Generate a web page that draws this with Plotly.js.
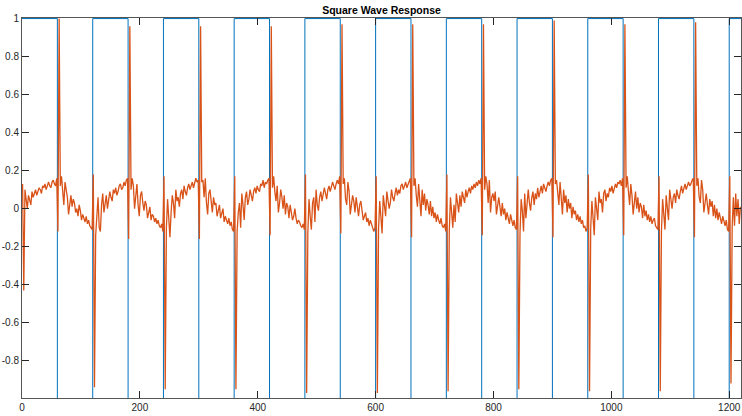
<!DOCTYPE html>
<html>
<head>
<meta charset="utf-8">
<script src="https://cdn.plot.ly/plotly-3.0.1.min.js"></script>
<style>
  html, body { margin: 0; padding: 0; background: #ffffff; }
  #chart { width: 742px; height: 416px; }
</style>
</head>
<body>
<div id="chart"></div>
<script>
// Square wave input: level changes at each edge time (held until the next one)
const squareTimes  = [0, 60, 120, 180, 240, 300, 360, 420, 480, 540, 600, 660, 720, 780, 840, 900, 960, 1020, 1080, 1140, 1200, 1220];
const squareLevels = [1, -1, 1, -1, 1, -1, 1, -1, 1, -1, 1, -1, 1, -1, 1, -1, 1, -1, 1, -1, 1, 1];

// System response, sampled every 2 time units starting at t = 1.
// One array per 120-unit cycle (high half then low half).
const responseStart = 1;
const responseStep = 2;
const cycle0 = [0.13, -0.43, 0.1, 0.03, 0.0, 0.07, 0.05, 0.02, 0.09, 0.06, 0.08, 0.1, 0.07, 0.09, 0.11, 0.1, 0.08, 0.12, 0.11, 0.13, 0.1, 0.12, 0.14, 0.12, 0.11, 0.14, 0.15, 0.13, 0.12, 0.16,
  -0.12, 1.0, 0.12, 0.17, 0.08, 0.02, 0.14, 0.1, 0.06, -0.03, 0.04, 0.07, 0.01, 0.05, 0.03, -0.02, 0.0, -0.04, 0.02, -0.01, -0.06, -0.03, -0.05, -0.07, -0.04, -0.08, -0.06, -0.09, -0.1, -0.11];
const cycle1 = [0.18, -0.94, -0.14, -0.05, 0.06, -0.1, -0.12, 0.02, 0.08, -0.02, 0.03, 0.07, 0.0, 0.05, 0.09, 0.06, 0.04, 0.1, 0.08, 0.11, 0.07, 0.09, 0.12, 0.13, 0.1, 0.11, 0.14, 0.12, 0.15, 0.16,
  -0.16, 0.96, 0.1, 0.16, 0.12, 0.0, 0.05, 0.13, 0.02, -0.04, 0.07, 0.09, 0.03, -0.01, 0.04, 0.02, -0.05, -0.02, 0.01, -0.06, -0.03, -0.04, -0.07, -0.05, -0.08, -0.06, -0.09, -0.1, -0.08, -0.12];
const cycle2 = [0.17, -0.95, -0.1, 0.05, -0.03, -0.15, -0.02, 0.07, 0.03, -0.05, 0.1, 0.04, 0.06, 0.01, 0.08, 0.1, 0.05, 0.12, 0.09, 0.07, 0.11, 0.13, 0.1, 0.12, 0.14, 0.11, 0.13, 0.16, 0.14, 0.15,
  -0.16, 0.96, 0.14, 0.15, 0.06, 0.16, 0.03, -0.03, 0.08, 0.1, 0.04, -0.02, 0.06, 0.02, 0.03, -0.04, -0.01, 0.02, -0.05, -0.03, 0.0, -0.07, -0.04, -0.06, -0.08, -0.05, -0.09, -0.07, -0.11, -0.12];
const cycle3 = [0.17, -0.95, -0.12, -0.02, 0.03, -0.1, 0.08, 0.02, -0.06, 0.06, 0.09, 0.02, 0.05, 0.1, 0.07, 0.04, 0.09, 0.11, 0.08, 0.12, 0.1, 0.09, 0.13, 0.12, 0.15, 0.11, 0.14, 0.13, 0.15, 0.16,
  -0.14, 0.96, 0.11, 0.17, 0.09, 0.04, 0.12, -0.02, 0.03, 0.1, 0.06, 0.0, 0.07, -0.03, 0.03, 0.01, -0.05, 0.02, -0.02, -0.06, -0.04, 0.0, -0.05, -0.08, -0.06, -0.07, -0.09, -0.1, -0.08, -0.11];
const cycle4 = [0.18, -0.97, -0.13, 0.05, -0.04, -0.11, 0.03, 0.06, -0.07, 0.1, 0.02, -0.01, 0.06, 0.09, 0.04, 0.07, 0.11, 0.08, 0.05, 0.1, 0.12, 0.09, 0.11, 0.14, 0.12, 0.1, 0.13, 0.15, 0.13, 0.17,
  -0.13, 0.97, 0.13, 0.16, 0.05, 0.02, 0.14, 0.09, -0.03, 0.03, 0.07, 0.04, -0.02, 0.06, 0.0, -0.04, 0.02, 0.04, -0.01, -0.06, -0.04, -0.02, -0.07, -0.05, -0.09, -0.06, -0.08, -0.1, -0.12, -0.1];
const cycle5 = [0.17, -0.97, -0.11, 0.04, -0.06, -0.13, 0.07, 0.01, -0.04, 0.09, 0.05, 0.0, 0.03, 0.1, 0.06, 0.04, 0.08, 0.11, 0.07, 0.1, 0.08, 0.12, 0.13, 0.1, 0.12, 0.14, 0.11, 0.13, 0.15, 0.16,
  -0.15, 0.97, 0.12, 0.16, 0.07, 0.01, 0.13, 0.05, -0.04, 0.1, 0.02, 0.08, -0.01, 0.05, 0.02, -0.03, 0.04, -0.04, 0.01, -0.05, -0.02, -0.07, -0.03, -0.06, -0.08, -0.05, -0.09, -0.1, -0.08, -0.12];
const cycle6 = [0.18, -0.96, -0.12, 0.06, -0.03, -0.1, 0.02, -0.07, 0.08, 0.04, -0.02, 0.07, 0.01, 0.09, 0.05, 0.03, 0.1, 0.06, 0.09, 0.11, 0.08, 0.12, 0.1, 0.13, 0.11, 0.14, 0.12, 0.15, 0.13, 0.16,
  -0.14, 0.97, 0.1, 0.17, 0.13, 0.03, 0.15, -0.02, 0.06, 0.08, 0.04, 0.09, -0.03, 0.02, 0.06, 0.01, -0.04, 0.03, -0.03, 0.0, -0.06, -0.02, -0.05, -0.08, -0.03, -0.07, -0.09, -0.06, -0.1, -0.11];
const cycle7 = [0.17, -0.95, -0.13, 0.05, -0.01, -0.12, 0.08, -0.05, 0.04, 0.1, 0.03, -0.01, 0.06, 0.09, 0.02, 0.08, 0.05, 0.11, 0.06, 0.1, 0.12, 0.08, 0.13, 0.11, 0.09, 0.12, 0.14, 0.12, 0.15, 0.16,
  -0.15, 0.99, 0.13, 0.15, 0.08, 0.02, 0.14, 0.06, -0.03, 0.1, 0.03, 0.07, -0.02, 0.05, 0.0, 0.03, -0.05, 0.01, -0.03, -0.01, -0.06, -0.03, -0.07, -0.04, -0.08, -0.06, -0.1, -0.09, -0.12, -0.1];
const cycle8 = [0.18, -0.96, -0.1, 0.04, -0.05, -0.14, 0.06, -0.02, -0.06, 0.09, 0.03, 0.05, -0.02, 0.08, 0.1, 0.04, 0.08, 0.06, 0.11, 0.09, 0.12, 0.08, 0.1, 0.13, 0.11, 0.14, 0.13, 0.15, 0.12, 0.16,
  -0.14, 0.97, 0.11, 0.17, 0.09, 0.02, 0.13, 0.07, -0.03, 0.04, 0.09, 0.0, 0.06, -0.02, 0.03, 0.01, -0.05, 0.02, -0.04, -0.01, -0.06, -0.03, -0.07, -0.04, -0.08, -0.06, -0.05, -0.09, -0.1, -0.11];
const cycle9 = [0.17, -0.96, -0.12, 0.05, -0.03, -0.11, 0.07, 0.02, -0.06, 0.1, 0.04, 0.0, 0.06, 0.08, 0.03, 0.1, 0.07, 0.05, 0.09, 0.12, 0.08, 0.11, 0.13, 0.1, 0.12, 0.14, 0.12, 0.13, 0.15, 0.16,
  -0.15, 0.98, 0.12, 0.16, 0.06, 0.03, 0.15, 0.1, -0.02, 0.05, 0.08, 0.02, -0.03, 0.05, 0.01, 0.04, -0.04, 0.02, -0.05, 0.0, -0.06, -0.02, -0.05, -0.08, -0.04, -0.07, -0.09, -0.06, -0.11, -0.12];
const cycleTail = [0.17, -0.92, -0.1, 0.06, -0.09, 0.08, -0.04, 0.05, -0.08, 0.01];

// Axis ticks
const xTickVals = [0, 200, 400, 600, 800, 1000, 1200];
const xTickText = ['0', '200', '400', '600', '800', '1000', '1200'];
const yTickVals = [-0.8, -0.6, -0.4, -0.2, 0, 0.2, 0.4, 0.6, 0.8, 1];
const yTickText = ['-0.8', '-0.6', '-0.4', '-0.2', '0', '0.2', '0.4', '0.6', '0.8', '1'];

const responseY = [].concat(cycle0, cycle1, cycle2, cycle3, cycle4, cycle5, cycle6, cycle7, cycle8, cycle9, cycleTail);
const responseX = responseY.map((_, i) => responseStart + i * responseStep);

const axisColor = '#262626';
const tickFont = { family: 'Liberation Sans, Arial, sans-serif', size: 10, color: axisColor };

const traces = [
  {
    type: 'scatter', mode: 'lines',
    x: squareTimes, y: squareLevels,
    line: { color: '#0072BD', width: 1, shape: 'hv' },
    hoverinfo: 'skip'
  },
  {
    type: 'scatter', mode: 'lines',
    x: responseX, y: responseY,
    line: { color: '#D95319', width: 1.3 },
    hoverinfo: 'skip'
  }
];

const layout = {
  width: 742, height: 416,
  margin: { l: 22, r: 1, t: 18, b: 18, pad: 0 },
  paper_bgcolor: '#ffffff', plot_bgcolor: '#ffffff',
  showlegend: false,
  title: {
    text: 'Square Wave Response',
    font: { family: 'Liberation Sans, Arial, sans-serif', size: 10.5, color: '#000000', weight: 700 },
    x: 0.5, xanchor: 'center', xref: 'paper',
    y: 0.976, yanchor: 'middle', yref: 'container'
  },
  xaxis: {
    range: [0, 1220],
    tickmode: 'array', tickvals: xTickVals, ticktext: xTickText,
    ticks: 'inside', ticklen: 7, tickwidth: 1, tickcolor: axisColor,
    showline: true, linecolor: '#555555', linewidth: 1, mirror: 'ticks',
    showgrid: false, zeroline: false,
    tickfont: tickFont
  },
  yaxis: {
    range: [-0.996, 1.003],
    tickmode: 'array', tickvals: yTickVals, ticktext: yTickText,
    ticks: 'inside', ticklen: 7, tickwidth: 1, tickcolor: axisColor,
    showline: true, linecolor: '#555555', linewidth: 1, mirror: 'ticks',
    showgrid: false, zeroline: false,
    tickfont: tickFont
  }
};

Plotly.newPlot('chart', traces, layout, { staticPlot: true, displayModeBar: false });
</script>
</body>
</html>
